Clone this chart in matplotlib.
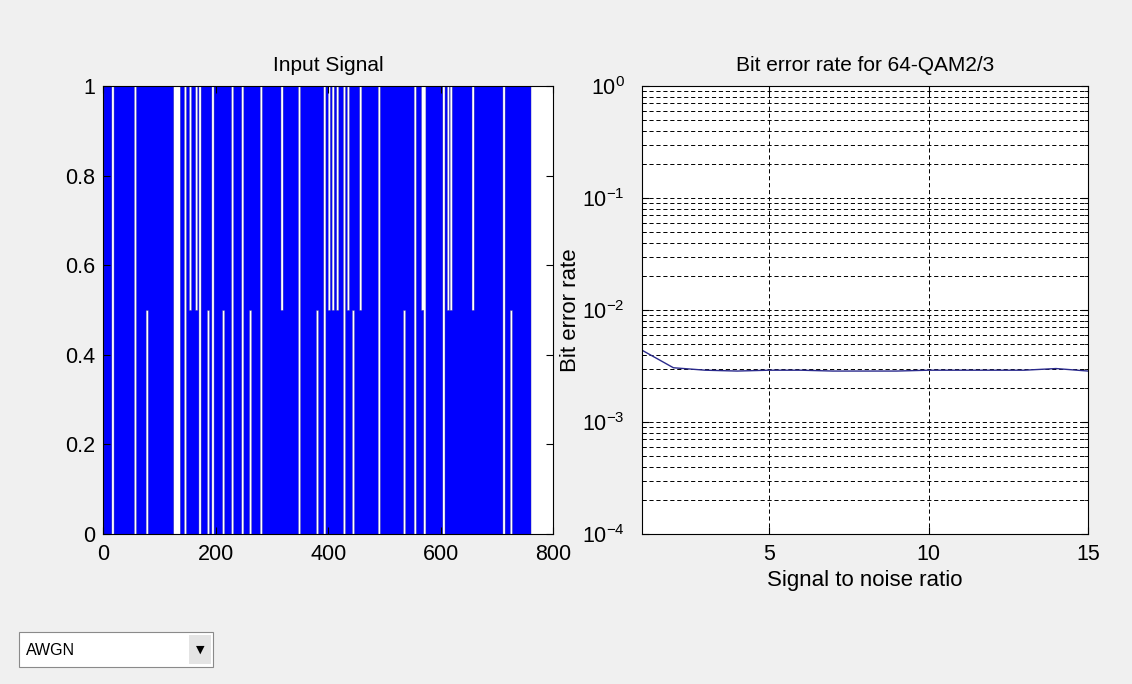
"""Input signal bar view and 64-QAM 2/3 bit error rate curve, as shown in the
simulator GUI (AWGN channel selected). Writes out.png.
"""
import numpy as np
import matplotlib
matplotlib.use("Agg")
import matplotlib.pyplot as plt
from matplotlib.patches import Rectangle
from matplotlib.ticker import FuncFormatter, LogLocator, NullFormatter

N_SAMPLES = 760
ZERO_SAMPLES = [16, 56, 145, 171, 194, 229, 247, 280, 348, 393, 428, 490, 554, 571, 605, 712]
ZERO_RUN = (124, 136)                      # the wide gap
HALF_SAMPLES = [154, 165, 317, 401, 408, 416, 435, 457, 567, 613, 618, 657]     # bar 0 .. 0.5
RAISED_SAMPLES = [77, 186, 213, 261, 380, 444, 535, 725]                       # bar 0.5 .. 1
GAP_HALF_WIDTH = 2

# --- bit error rate ---
SNR = [1, 2, 3, 4, 5, 6, 7, 8, 9, 10, 11, 12, 13, 14, 15]
BER = [4.4e-3, 3.05e-3, 2.9e-3, 2.85e-3, 2.9e-3, 2.9e-3, 2.85e-3, 2.85e-3,
       2.85e-3, 2.9e-3, 2.9e-3, 2.9e-3, 2.9e-3, 3.0e-3, 2.85e-3]

CHANNEL = "AWGN"

GUI_BG = "#f0f0f0"
BAR_BLUE = "#0000ff"
LINE_NAVY = "#2a2a8c"

plt.rcParams["font.family"] = ["Liberation Sans", "DejaVu Sans"]
plt.rcParams["mathtext.fontset"] = "custom"
plt.rcParams["mathtext.rm"] = "Liberation Sans"
plt.rcParams["mathtext.it"] = "Liberation Sans:italic"
plt.rcParams["lines.scale_dashes"] = False


def signal_bounds():
    low = np.zeros(N_SAMPLES)
    high = np.ones(N_SAMPLES)
    w = GAP_HALF_WIDTH
    for p in ZERO_SAMPLES:
        high[p - w:p + w] = 0
    high[ZERO_RUN[0]:ZERO_RUN[1]] = 0
    for p in HALF_SAMPLES:
        high[p - w:p + w] = 0.5
    for p in RAISED_SAMPLES:
        low[p - w:p + w] = 0.5
    return low, high


def matlab_ticks(ax, size):
    ax.tick_params(which="both", direction="in", top=True, right=True, labelsize=size)
    ax.tick_params(which="major", length=5, width=0.8)
    ax.tick_params(which="minor", length=3, width=0.6)
    for s in ax.spines.values():
        s.set_linewidth(0.8)
        s.set_color("black")


def plot_input_signal(ax):
    low, high = signal_bounds()
    x = np.arange(N_SAMPLES + 1)
    ax.fill_between(x, np.append(low, low[-1]), np.append(high, high[-1]), step="post",
                    facecolor=BAR_BLUE, edgecolor="#3030a0", linewidth=0.3)
    ax.set_xlim(0, 800)
    ax.set_ylim(0, 1)
    ax.set_xticks([0, 200, 400, 600, 800])
    ax.set_yticks([0, 0.2, 0.4, 0.6, 0.8, 1])
    ax.yaxis.set_major_formatter(FuncFormatter(lambda v, _: f"{v:g}"))
    ax.set_title("Input Signal", fontsize=15, pad=11)
    matlab_ticks(ax, 15.5)
    ax.tick_params(axis="x", pad=7)
    ax.tick_params(axis="y", pad=6)


def plot_ber(ax):
    ax.semilogy(SNR, BER, color=LINE_NAVY, linewidth=1)
    ax.set_xlim(1, 15)
    ax.set_ylim(1e-4, 1)
    ax.set_xticks([5, 10, 15])
    ax.yaxis.set_minor_locator(LogLocator(base=10, subs=np.arange(2, 10)))
    ax.yaxis.set_minor_formatter(NullFormatter())
    dash = (0, (3, 2))
    ax.grid(True, which="major", axis="both", color="black", linestyle=dash, linewidth=0.7)
    ax.grid(True, which="minor", axis="y", color="black", linestyle=dash, linewidth=0.7)
    ax.set_axisbelow(True)
    ax.set_title("Bit error rate for 64-QAM2/3", fontsize=15, pad=11)
    ax.set_xlabel("Signal to noise ratio", fontsize=16, labelpad=4)
    ax.set_ylabel("Bit error rate", fontsize=16)
    ax.yaxis.set_label_coords(-0.136, 0.5)
    matlab_ticks(ax, 15.5)
    ax.tick_params(axis="x", pad=7)
    ax.tick_params(axis="y", pad=12)


def draw_channel_popup(fig):
    fig.patches.append(Rectangle((0.0168, 0.0249), 0.1714, 0.0512, transform=fig.transFigure,
                                 facecolor="white", edgecolor="#8a8a8a", linewidth=0.8))
    fig.patches.append(Rectangle((0.1670, 0.0290), 0.0195, 0.0430, transform=fig.transFigure,
                                 facecolor="#e4e4e4", edgecolor="none"))
    fig.text(0.0225, 0.0495, CHANNEL, fontsize=11.5, va="center", ha="left")
    fig.text(0.1768, 0.0505, "\u25bc", fontsize=8, va="center", ha="center",
             family=["DejaVu Sans"])


def main():
    fig = plt.figure(figsize=(11.32, 6.84), dpi=100, facecolor=GUI_BG)
    ax1 = fig.add_axes([0.0914, 0.2193, 0.3971, 0.655])
    ax2 = fig.add_axes([0.5667, 0.2193, 0.3944, 0.655])
    plot_input_signal(ax1)
    plot_ber(ax2)
    draw_channel_popup(fig)
    fig.savefig("out.png", dpi=100, facecolor=GUI_BG)


if __name__ == "__main__":
    main()
